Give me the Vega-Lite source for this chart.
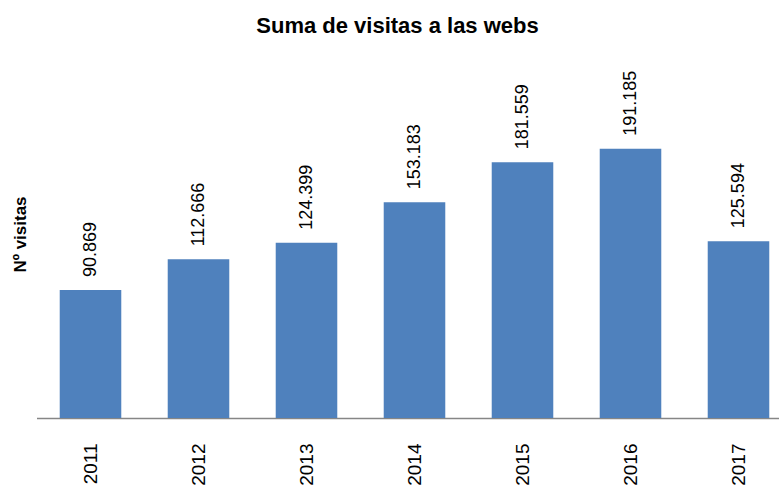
{
  "$schema": "https://vega.github.io/schema/vega-lite/v6.json",
  "autosize": "none",
  "width": 756,
  "height": 352,
  "padding": {"left": 36.5, "top": 66, "right": 0, "bottom": 73},
  "background": "white",
  "config": {
    "view": {"stroke": null},
    "locale": {"number": {"decimal": ",", "thousands": ".", "grouping": [3], "currency": ["", " €"]}}
  },
  "title": {
    "text": "Suma de visitas a las webs",
    "font": "Liberation Sans",
    "fontSize": 22,
    "fontWeight": "bold",
    "color": "#000000",
    "anchor": "middle",
    "baseline": "alphabetic",
    "offset": 11,
    "dx": -17
  },
  "data": {
    "values": [
      {"year": "2011", "visitas": 90869},
      {"year": "2012", "visitas": 112666},
      {"year": "2013", "visitas": 124399},
      {"year": "2014", "visitas": 153183},
      {"year": "2015", "visitas": 181559},
      {"year": "2016", "visitas": 191185},
      {"year": "2017", "visitas": 125594}
    ]
  },
  "encoding": {
    "x": {
      "field": "year",
      "type": "nominal",
      "scale": {"paddingInner": 0.43, "paddingOuter": 0.215},
      "axis": {
        "title": null,
        "labelAngle": -90,
        "labelAlign": "right",
        "labelBaseline": "middle",
        "labelPadding": 25,
        "labelFont": "Liberation Sans",
        "labelFontSize": 19,
        "labelColor": "#000000",
        "ticks": false,
        "domainColor": "#868686",
        "domainWidth": 1.5
      }
    },
    "y": {
      "field": "visitas",
      "type": "quantitative",
      "scale": {"domain": [0, 250000]},
      "axis": {
        "title": "Nº visitas",
        "titleFont": "Liberation Sans",
        "titleFontSize": 17,
        "titleFontWeight": "bold",
        "titleColor": "#000000",
        "titleAngle": -90,
        "titleAlign": "center",
        "titleBaseline": "middle",
        "titleX": -16.5,
        "titleY": 168,
        "labels": false,
        "ticks": false,
        "domain": false,
        "grid": false
      }
    }
  },
  "layer": [
    {"mark": {"type": "bar", "color": "#4F81BD"}},
    {
      "mark": {
        "type": "text",
        "angle": -90,
        "align": "left",
        "baseline": "middle",
        "dx": 13,
        "font": "Liberation Sans",
        "fontSize": 18,
        "color": "#000000"
      },
      "encoding": {
        "text": {"field": "visitas", "type": "quantitative", "format": ",d"}
      }
    }
  ]
}
